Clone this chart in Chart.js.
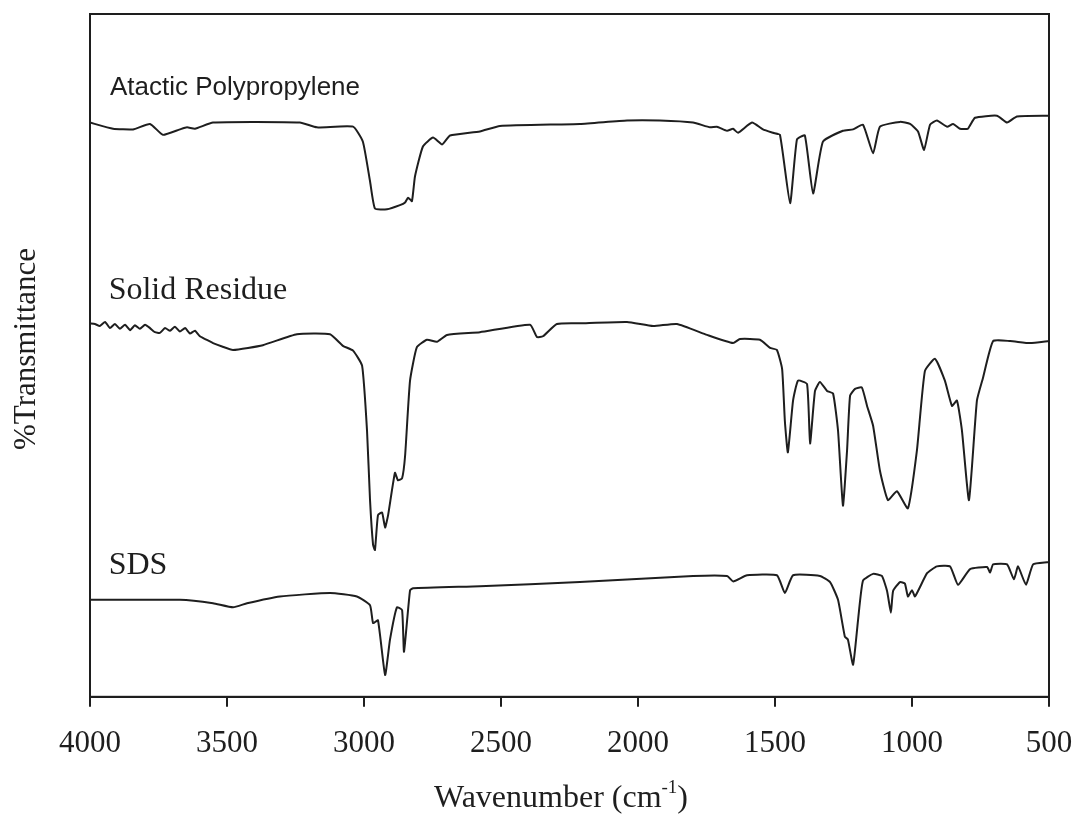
<!DOCTYPE html>
<html>
<head>
<meta charset="utf-8">
<script src="https://cdn.jsdelivr.net/npm/chart.js@4/dist/chart.umd.min.js"></script>
<style>
  html, body { margin: 0; padding: 0; background: #fff; }
  #wrap { width: 1080px; height: 826px; }
</style>
</head>
<body>
<div id="wrap"><canvas id="irChart" width="1080" height="826"></canvas></div>
<script>
// FTIR spectra, stacked (%T with offsets), wavenumber in cm-1
var apWn = [4000, 3916, 3843, 3781, 3734, 3672, 3646, 3617, 3551, 3234, 3172, 3040, 3004, 2978, 2960, 2916, 2869, 2850, 2839, 2825, 2814, 2785, 2748, 2715, 2686, 2577, 2504, 2212, 2040, 1920, 1799, 1737, 1712, 1675, 1653, 1635, 1584, 1544, 1507, 1482, 1445, 1420, 1391, 1361, 1325, 1252, 1215, 1179, 1142, 1117, 1044, 1007, 978, 956, 934, 909, 872, 850, 825, 796, 770, 690, 653, 617, 500];
var apT = [84.1, 83.2, 83.1, 83.9, 82.3, 83.1, 83.4, 83.2, 84.1, 84.1, 83.4, 83.5, 81.3, 75.5, 71.5, 71.4, 72.0, 72.4, 73.1, 72.6, 76.2, 80.6, 81.9, 80.9, 82.2, 82.8, 83.6, 83.9, 84.4, 84.4, 84.1, 83.4, 83.5, 82.9, 83.2, 82.6, 84.1, 83.1, 82.6, 82.3, 72.3, 81.6, 82.2, 73.7, 81.3, 82.9, 83.1, 83.8, 79.6, 83.5, 84.2, 83.9, 82.8, 80.1, 83.8, 84.4, 83.5, 83.9, 83.2, 83.2, 84.8, 85.1, 84.1, 85.0, 85.1];

var srWn = [4000, 3982, 3964, 3945, 3927, 3909, 3891, 3872, 3854, 3836, 3818, 3799, 3781, 3763, 3745, 3726, 3708, 3690, 3672, 3653, 3635, 3617, 3599, 3580, 3551, 3518, 3478, 3369, 3245, 3124, 3077, 3040, 3007, 2989, 2978, 2967, 2960, 2949, 2934, 2923, 2912, 2887, 2876, 2861, 2850, 2832, 2807, 2770, 2734, 2697, 2577, 2394, 2369, 2347, 2296, 2212, 2040, 1945, 1858, 1748, 1653, 1628, 1555, 1518, 1493, 1474, 1464, 1453, 1434, 1416, 1383, 1372, 1354, 1336, 1310, 1288, 1270, 1252, 1237, 1226, 1208, 1183, 1164, 1142, 1117, 1088, 1055, 1015, 982, 953, 916, 880, 854, 836, 818, 792, 763, 741, 704, 642, 569, 500];
var srT = [54.7, 54.6, 54.3, 54.9, 54.0, 54.6, 53.9, 54.5, 53.7, 54.4, 53.9, 54.5, 54.0, 53.4, 53.3, 54.0, 53.6, 54.2, 53.5, 54.0, 53.2, 53.6, 52.8, 52.4, 51.8, 51.3, 50.8, 51.5, 53.1, 53.1, 51.4, 50.7, 48.5, 39.0, 28.8, 22.3, 21.5, 26.6, 27.0, 24.8, 26.6, 32.8, 31.7, 32.0, 35.3, 46.3, 51.2, 52.3, 52.0, 53.0, 53.4, 54.5, 52.7, 52.8, 54.6, 54.7, 54.9, 54.3, 54.6, 53.0, 51.8, 52.4, 52.3, 51.1, 50.8, 48.0, 40.4, 35.8, 43.4, 46.3, 45.8, 37.1, 44.8, 46.1, 44.8, 44.4, 39.0, 28.0, 36.1, 44.1, 45.1, 45.3, 42.6, 39.7, 33.1, 28.8, 30.1, 27.6, 36.1, 47.7, 49.5, 46.3, 42.6, 43.4, 39.1, 28.8, 43.4, 46.7, 52.1, 52.1, 51.8, 52.1];

var sdsWn = [4000, 3672, 3551, 3478, 3427, 3307, 3124, 3026, 2978, 2967, 2949, 2923, 2905, 2880, 2861, 2854, 2832, 2821, 2577, 2212, 1799, 1675, 1653, 1602, 1493, 1464, 1434, 1336, 1299, 1270, 1245, 1234, 1215, 1197, 1179, 1142, 1110, 1091, 1077, 1069, 1044, 1026, 1015, 1000, 989, 945, 909, 861, 832, 788, 726, 715, 704, 653, 628, 613, 584, 558, 507, 500];
var sdsT = [14.2, 14.2, 13.7, 13.1, 13.7, 14.7, 15.2, 14.7, 13.4, 10.8, 11.2, 3.2, 8.4, 13.1, 12.7, 6.6, 15.6, 15.9, 16.2, 16.8, 17.7, 17.7, 16.9, 17.8, 17.8, 15.2, 17.8, 17.7, 16.8, 14.2, 8.8, 8.4, 4.7, 11.2, 17.0, 18.0, 17.7, 15.5, 12.3, 15.5, 16.8, 16.6, 14.7, 15.6, 14.7, 18.1, 19.1, 19.1, 16.4, 18.7, 19.0, 18.2, 19.4, 19.4, 17.2, 19.1, 16.4, 19.4, 19.7, 19.7];

var xTicks = [4000, 3500, 3000, 2500, 2000, 1500, 1000, 500];

// names written above each trace, anchored at (wavenumber, value)
var traceNames = ['Atactic Polypropylene', 'Solid Residue', 'SDS'];
var nameWn = [3927, 3932, 3932];
var nameT = [88.2, 58.2, 18.0];
var nameFonts = ['26px "Liberation Sans", Arial, sans-serif', '32px "Liberation Serif", "Times New Roman", serif', '32px "Liberation Serif", "Times New Roman", serif'];

function pairs(wn, t) {
  return wn.map(function (w, i) { return { x: w, y: t[i] }; });
}

var INK = '#1e1e1e';
var SERIF = '"Liberation Serif", "Times New Roman", serif';

var frameAndText = {
  id: 'frameAndText',
  afterDraw: function (chart) {
    var ctx = chart.ctx;
    var a = chart.chartArea;
    var xs = chart.scales.x, ys = chart.scales.y;
    ctx.save();
    // box around the plot
    ctx.strokeStyle = INK;
    ctx.lineWidth = 2;
    ctx.strokeRect(a.left, a.top, a.right - a.left, a.bottom - a.top);

    ctx.fillStyle = INK;
    ctx.textAlign = 'left';
    ctx.textBaseline = 'alphabetic';
    for (var i = 0; i < traceNames.length; i++) {
      ctx.font = nameFonts[i];
      ctx.fillText(traceNames[i], xs.getPixelForValue(nameWn[i]), ys.getPixelForValue(nameT[i]));
    }

    // y title
    ctx.save();
    ctx.translate(27, 349);
    ctx.rotate(-Math.PI / 2);
    ctx.font = '31px ' + SERIF;
    ctx.textAlign = 'center';
    ctx.textBaseline = 'middle';
    ctx.fillText('%Transmittance', 0, 0);
    ctx.restore();

    // x title with superscript
    var main = '32px ' + SERIF, sup = '19px ' + SERIF;
    var p1 = 'Wavenumber (cm', p2 = '-1', p3 = ')';
    ctx.font = main; var w1 = ctx.measureText(p1).width; var w3 = ctx.measureText(p3).width;
    ctx.font = sup; var w2 = ctx.measureText(p2).width;
    var x0 = 561 - (w1 + w2 + w3) / 2, base = 807;
    ctx.textAlign = 'left';
    ctx.font = main; ctx.fillText(p1, x0, base);
    ctx.font = sup; ctx.fillText(p2, x0 + w1, base - 14);
    ctx.font = main; ctx.fillText(p3, x0 + w1 + w2, base);
    ctx.restore();
  }
};

function line(label, wn, t) {
  return {
    label: label,
    data: pairs(wn, t),
    borderColor: INK,
    borderWidth: 2,
    pointRadius: 0,
    tension: 0.15,
    fill: false
  };
}

new Chart(document.getElementById('irChart'), {
  type: 'line',
  data: {
    datasets: [
      line('Atactic Polypropylene', apWn, apT),
      line('Solid Residue', srWn, srT),
      line('SDS', sdsWn, sdsT)
    ]
  },
  options: {
    responsive: false,
    animation: false,
    layout: { padding: { left: 90, right: 31, top: 14, bottom: 46 } },
    plugins: { legend: { display: false }, tooltip: { enabled: false } },
    scales: {
      x: {
        type: 'linear',
        reverse: true,
        min: 500,
        max: 4000,
        afterBuildTicks: function (axis) {
          axis.ticks = xTicks.map(function (v) { return { value: v }; });
        },
        afterFit: function (axis) {
          // end labels may hang past the plot; keep the plot width fixed
          axis.paddingLeft = 0;
          axis.paddingRight = 0;
        },
        grid: { drawOnChartArea: false, drawTicks: true, tickLength: 10, color: INK, lineWidth: 2 },
        border: { display: true, color: INK, width: 2 },
        ticks: {
          color: INK,
          padding: 18,
          maxRotation: 0,
          font: { family: SERIF, size: 31 },
          callback: function (v) { return String(v); }
        }
      },
      y: {
        display: false,
        min: 0,
        max: 100
      }
    }
  },
  plugins: [frameAndText]
});
</script>
</body>
</html>
